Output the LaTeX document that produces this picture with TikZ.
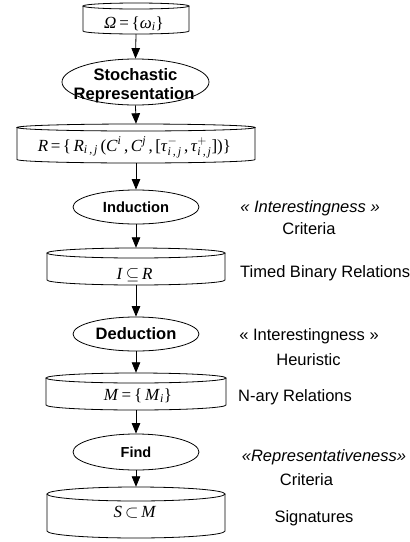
\documentclass[tikz,border=0pt]{standalone}
\usepackage{amsmath}
\usepackage{fontspec}
\setmainfont{Liberation Serif}
\setsansfont{Liberation Sans}
\usetikzlibrary{arrows.meta,shapes.geometric}

\newcommand\sbs[1]{$_{\text{\itshape #1}}$}
\newcommand\sps[1]{$^{\text{\itshape #1}}$}
\newcommand\eqs{\,=\,}
\newcommand\gap{\hspace{2.5pt}}

\newcommand\cylinderbox[6]{% name, cx, top, bottom, half width, ry
  \node[store, minimum width={2*#5*1pt}, minimum height={(#4-#3)*1pt}] (#1) at (#2,{(#3+#4)/2}) {};
  \draw[outline] (#2,#3+#6) ellipse [x radius=#5, y radius=#6];
  \draw[outline] (#2-#5,#3+#6) -- (#2-#5,#4-#6)
     .. controls (#2-#5,#4-#6+0.552*#6) and (#2-0.552*#5,#4) .. (#2,#4)
     .. controls (#2+0.552*#5,#4) and (#2+#5,#4-#6+0.552*#6) .. (#2+#5,#4-#6)
     -- (#2+#5,#3+#6);
}

\tikzset{
  proc/.style={ellipse, draw, line width=0.8pt, inner sep=0pt,
    minimum width=126pt, minimum height=34pt},
  procfont/.style={font=\sffamily\bfseries\fontsize{#1}{#1}\selectfont},
  store/.style={rectangle, draw=none, inner sep=0pt},
  formula/.style={anchor=base, inner sep=0pt, font=\fontsize{17}{20}\selectfont},
  flow/.style={-{Triangle[length=10.5pt,width=8.5pt]}, line width=0.8pt},
  outline/.style={line width=0.8pt},
  note/.style={anchor=base, inner sep=0pt, font=\sffamily\fontsize{16.5}{19}\selectfont},
  inote/.style={anchor=base, inner sep=0pt, font=\sffamily\itshape\fontsize{16.5}{19}\selectfont},
}

\begin{document}
\begin{tikzpicture}[x=1pt,y=-1pt]
\useasboundingbox (0,0) rectangle (410,542);

% storage boxes
\cylinderbox{om}{136}{3}{34}{53}{3}
\cylinderbox{r}{136}{124}{163}{119}{3.5}
\cylinderbox{ib}{136}{248}{285}{89}{5}
\cylinderbox{mb}{136}{373}{410}{90}{5}
\cylinderbox{sb}{136}{487}{538}{89}{7}

\node[formula] (omT) at (134,28) {\textit{Ω}\eqs\{\textit{ω}\sbs{i}\}};
\node[formula] (rT) at (134.5,151) {\textit{R}\gap=\gap\{\gap\textit{R}\sbs{i\,,\,j}\gap(\textit{C}\sps{i}\gap,\gap\textit{C}\sps{j}\gap,\gap[\textit{τ}$^{-}_{\text{\itshape i\,,\,j}}$\gap,\gap\textit{τ}$^{+}_{\text{\itshape i\,,\,j}}$])\}};
\node[formula] (iT) at (134.5,279) {\textit{I}\,$\subseteq$\,\textit{R}};
\node[formula] (mT) at (138,400) {\textit{M}\eqs\{\,\textit{M}\sbs{i}\}};
\node[formula] (sT) at (135,517) {\textit{S}\,$\subset$\,\textit{M}};

% processes
\node[proc, minimum width=147pt, minimum height=46pt] (st) at (135.5,82) {};
\node[note, procfont=16.6] (st1) at (135.5,80) {Stochastic};
\node[note, procfont=16.6] (st2) at (134,99) {Representation};
\node[proc, procfont=14.7] (ind) at (136,207) {Induction};
\node[proc, procfont=16.5] (ded) at (136,334) {Deduction};
\node[proc, procfont=14.5, minimum height=36pt] (find) at (136,452) {Find};

% connectors
\draw[flow] (om.south) -- (st.north);
\draw[flow] (st.south) -- (r.north);
\draw[flow] (r.south) -- (ind.north);
\draw[flow] (ind.south) -- (ib.north);
\draw[flow] (ib.south) -- (ded.north);
\draw[flow] (ded.south) -- (mb.north);
\draw[flow] (mb.south) -- (find.north);
\draw[flow] (find.south) -- (sb.north);

% side notes
\node[inote] (l1) at (310,212) {« Interestingness »};
\node[note] (l2) at (309,234) {Criteria};
\node[note, anchor=base west] (l3) at (240,277) {Timed Binary Relations};
\node[note] (l4) at (309,340) {« Interestingness »};
\node[note] (l5) at (308.5,365) {Heuristic};
\node[note, anchor=base west] (l6) at (238,401) {N-ary Relations};
\node[inote] (l7) at (324,461) {«Representativeness»};
\node[note] (l8) at (306.5,485) {Criteria};
\node[note] (l9) at (314,522) {Signatures};
\end{tikzpicture}
\end{document}
